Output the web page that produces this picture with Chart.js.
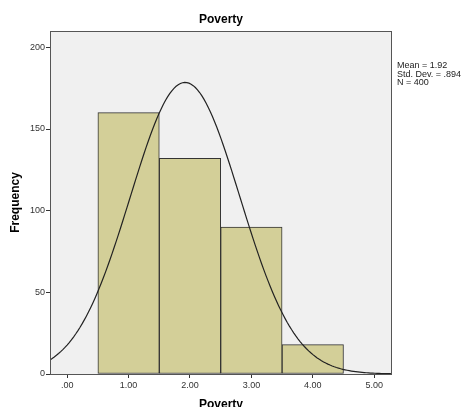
<!DOCTYPE html>
<html>
<head>
<meta charset="utf-8">
<script src="https://cdn.jsdelivr.net/npm/chart.js@4/dist/chart.umd.min.js"></script>
<style>
  html, body { margin: 0; padding: 0; background: #fff; }
  #wrap { width: 461px; height: 407px; }
</style>
</head>
<body>
<div id="wrap"><canvas id="c" width="461" height="407"></canvas></div>
<script>
// Histogram of Poverty scores with fitted normal curve
const binCenters = [1, 2, 3, 4];
const frequencies = [160, 132, 90, 18];
const xTicks = [0, 1, 2, 3, 4, 5];
const yTicks = [0, 50, 100, 150, 200];
const statLines = ['Mean = 1.92', 'Std. Dev. = .894', 'N = 400'];
const mean = 1.92;
const sd = 0.894;
const n = 400;
const binWidth = 1;

const xMin = -0.28, xMax = 5.29;
const yMin = 0, yMax = 210;

// Normal density scaled to counts, evaluated from the reported statistics
const curve = [];
for (let i = 0; i <= 160; i++) {
  const x = xMin + (xMax - xMin) * i / 160;
  const z = (x - mean) / sd;
  curve.push({ x, y: n * binWidth * Math.exp(-0.5 * z * z) / (sd * Math.sqrt(2 * Math.PI)) });
}

const FONT = 'Arial, "Liberation Sans", sans-serif';

const frame = {
  id: 'frame',
  beforeDatasetsDraw(chart) {
    const { ctx, chartArea: a } = chart;
    ctx.save();
    ctx.fillStyle = '#f0f0f0';
    ctx.fillRect(a.left, a.top, a.right - a.left, a.bottom - a.top);
    ctx.restore();
  },
  afterDraw(chart) {
    const { ctx, chartArea: a } = chart;
    ctx.save();
    ctx.strokeStyle = '#555';
    ctx.lineWidth = 1;
    ctx.strokeRect(a.left + 0.5, a.top + 0.5, a.right - a.left - 1, a.bottom - a.top);
    ctx.fillStyle = '#000';
    ctx.font = 'bold 12px ' + FONT;
    ctx.textAlign = 'center';
    ctx.textBaseline = 'middle';
    ctx.fillText('Poverty', (a.left + a.right) / 2, 20);
    ctx.font = '9px ' + FONT;
    ctx.textAlign = 'left';
    ctx.fillStyle = '#222';
    statLines.forEach((t, i) => ctx.fillText(t, a.right + 5, 66 + i * 8.5));
    ctx.restore();
  }
};

new Chart(document.getElementById('c'), {
  type: 'bar',
  data: {
    datasets: [
      {
        type: 'line',
        data: curve,
        borderColor: '#222',
        borderWidth: 1.2,
        pointRadius: 0,
        tension: 0,
        fill: false,
        order: 0
      },
      {
        type: 'bar',
        data: binCenters.map((c, i) => ({ x: c, y: frequencies[i] })),
        backgroundColor: '#d3cf98',
        borderColor: '#333',
        borderWidth: 1,
        borderSkipped: false,
        barPercentage: 1,
        categoryPercentage: 1,
        order: 1
      }
    ]
  },
  plugins: [frame],
  options: {
    responsive: false,
    animation: false,
    devicePixelRatio: 1,
    layout: { padding: { top: 31, right: 69, left: 0, bottom: 0 } },
    plugins: { legend: { display: false }, tooltip: { enabled: false }, title: { display: false } },
    scales: {
      x: {
        type: 'linear',
        min: xMin,
        max: xMax,
        offset: false,
        afterBuildTicks: s => { s.ticks = xTicks.map(v => ({ value: v })); },
        afterFit: s => { s.height = 33; },
        border: { display: false },
        grid: { offset: false, drawOnChartArea: false, drawTicks: true, tickLength: 4, color: '#333' },
        ticks: {
          padding: 2,
          maxRotation: 0,
          color: '#333',
          font: { size: 9, family: FONT },
          callback: v => (v === 0 ? '.00' : v.toFixed(2))
        },
        title: { display: true, text: 'Poverty', color: '#000', font: { size: 12, weight: 'bold', family: FONT }, padding: { top: 4, bottom: -5 } }
      },
      y: {
        min: yMin,
        max: yMax,
        afterBuildTicks: s => { s.ticks = yTicks.map(v => ({ value: v })); },
        afterFit: s => { s.width = 50; },
        border: { display: false },
        grid: { drawOnChartArea: false, drawTicks: true, tickLength: 4, color: '#333' },
        ticks: { padding: 1, color: '#333', font: { size: 9, family: FONT } },
        title: { display: true, text: 'Frequency', color: '#000', font: { size: 12, weight: 'bold', family: FONT }, padding: { top: 8, bottom: 0 } }
      }
    }
  }
});
</script>
</body>
</html>
